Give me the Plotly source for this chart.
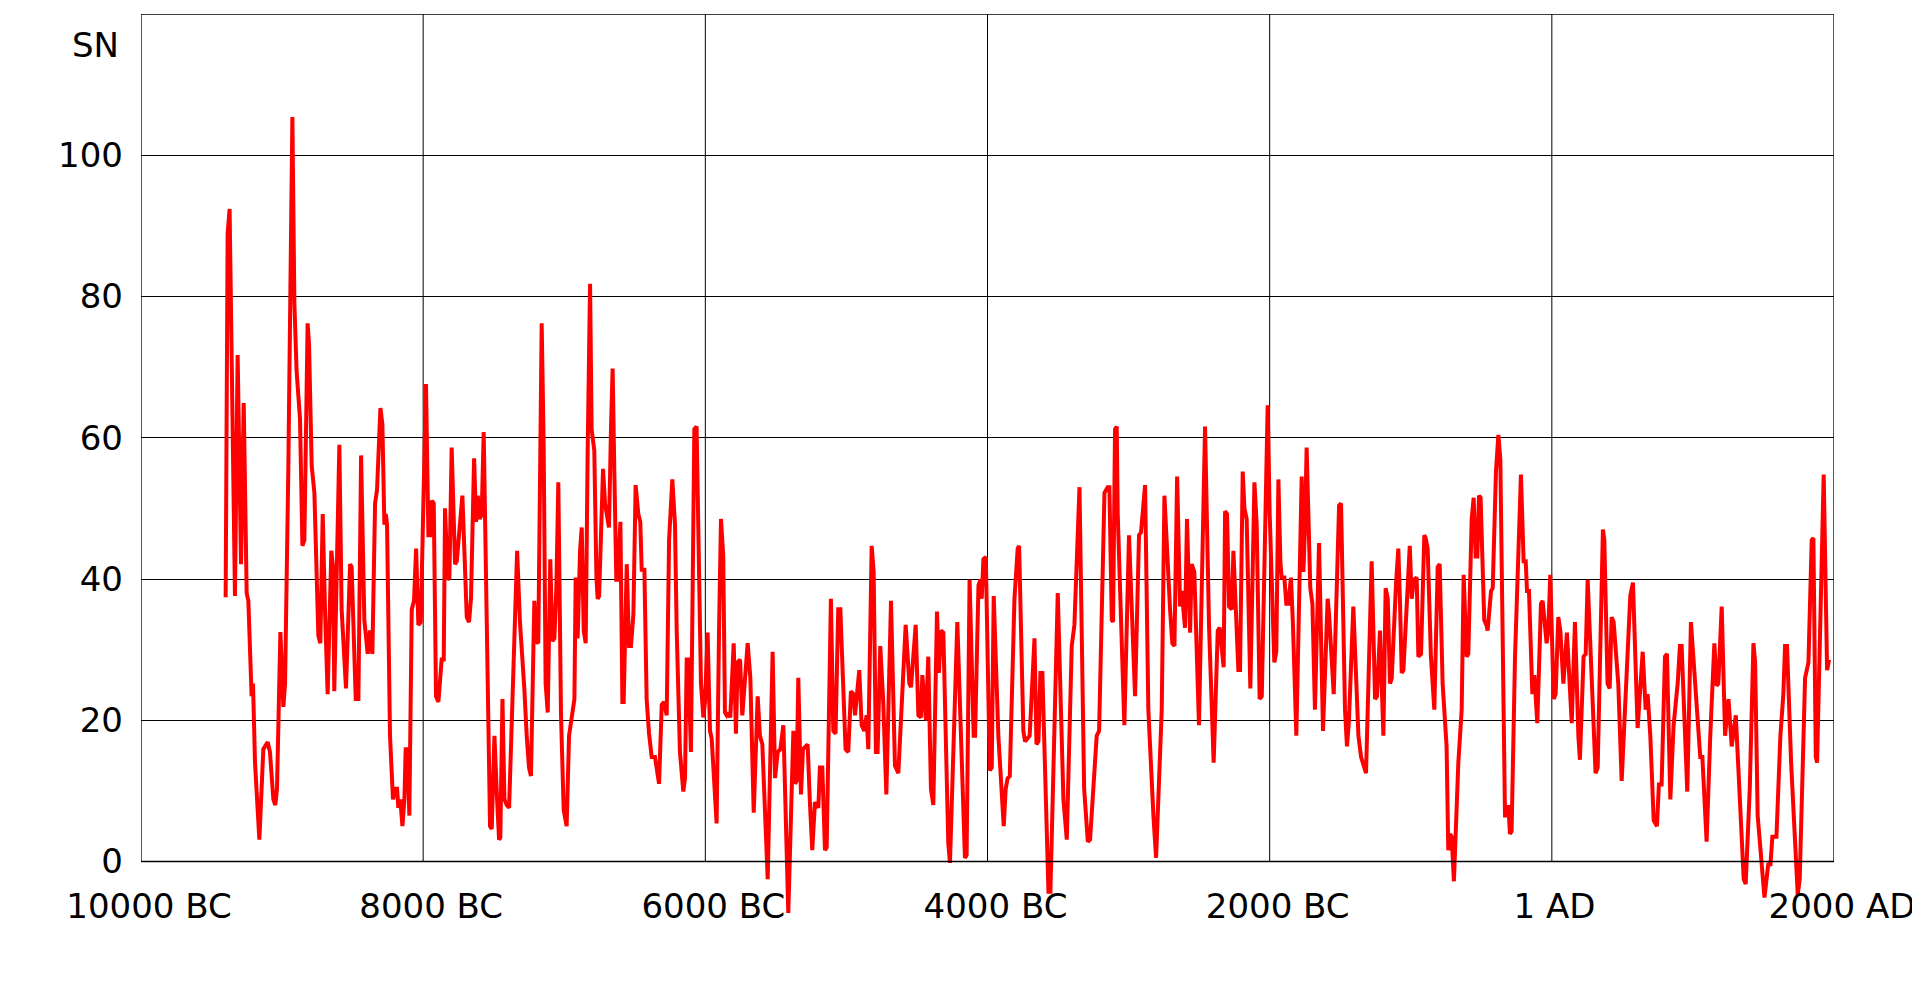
import plotly.graph_objects as go

## data (year, sunspot number)
years = [
    -9400, -9386, -9372, -9334, -9315, -9291, -9272, -9251, -9239, -9225,
    -9216, -9206, -9192, -9161, -9133, -9102, -9086, -9062, -9048, -9036,
    -9012, -8991, -8979, -8956, -8937, -8927, -8913, -8897, -8873, -8856,
    -8842, -8819, -8809, -8790, -8771, -8743, -8729, -8712, -8696, -8677,
    -8651, -8639, -8630, -8601, -8594, -8578, -8547, -8518, -8507, -8478,
    -8459, -8440, -8417, -8393,
    -8377, -8360, -8341, -8327, -8303, -8289, -8275, -8265, -8256, -8235,
    -8214, -8199, -8185, -8176, -8162, -8147, -8133, -8124, -8112, -8098,
    -8081, -8065, -8050, -8034, -8017, -7980, -7963, -7949, -7939, -7925,
    -7909, -7892, -7869, -7854, -7845, -7826, -7814, -7798, -7774, -7762,
    -7739, -7722, -7691, -7675, -7661, -7639, -7625, -7613, -7599, -7585,
    -7571, -7561, -7542, -7526, -7514, -7495, -7476, -7462, -7453, -7438,
    -7424, -7408, -7391, -7372, -7334,
    -7314, -7297, -7283, -7266, -7250, -7236, -7212, -7198, -7184, -7160,
    -7146, -7132, -7117, -7099, -7084, -7070, -7056, -7042, -7023, -7004,
    -6983, -6966, -6947, -6928, -6919, -6905, -6888, -6876, -6862, -6848,
    -6834, -6817, -6806, -6787, -6772, -6763, -6753, -6725, -6711, -6683,
    -6668, -6657, -6645, -6631, -6621, -6602, -6588, -6579, -6557, -6541,
    -6527, -6510, -6494, -6475, -6461, -6451, -6432, -6416, -6399, -6380,
    -6357, -6345, -6328, -6309, -6293, -6274, -6257, -6234,
    -6215, -6203, -6180, -6156, -6144, -6132, -6121, -6102, -6078, -6062,
    -6050, -6031, -6014, -6002, -5984, -5967, -5955, -5920, -5903, -5889,
    -5873, -5861, -5849, -5837, -5823, -5799, -5783, -5771, -5754, -5738,
    -5700, -5681, -5657, -5629, -5613, -5596, -5558, -5523, -5506, -5487,
    -5468, -5447, -5412, -5376, -5364, -5353, -5341, -5322, -5308, -5275,
    -5258, -5242, -5223,
    -5199, -5188, -5171, -5152, -5140, -5110, -5093, -5077, -5058, -5043,
    -5006, -4987, -4968, -4951, -4939, -4909, -4892, -4873, -4857, -4845,
    -4821, -4807, -4791, -4779, -4760, -4739, -4717, -4684, -4656, -4632,
    -4597, -4580, -4554, -4542, -4509, -4490, -4472, -4462, -4436, -4420,
    -4401, -4384, -4358, -4344, -4330, -4313, -4278, -4266, -4214, -4183,
    -4160, -4148, -4127,
    -4098, -4088, -4064, -4050, -4041, -4029, -4012, -3984, -3970, -3956,
    -3923, -3885, -3871, -3857, -3842, -3809, -3786, -3776, -3746, -3734,
    -3701, -3667, -3653, -3639, -3625, -3611, -3568, -3554, -3502, -3462,
    -3438, -3403, -3384, -3348, -3315, -3289, -3273, -3226, -3209, -3171,
    -3148, -3136, -3119, -3110, -3096, -3084,
    -3077, -3030, -2997, -2954, -2926, -2912, -2883, -2860, -2824, -2805,
    -2765, -2746, -2706, -2690, -2675, -2656, -2635, -2623, -2600, -2586,
    -2564, -2553, -2534, -2501, -2458, -2430, -2397, -2368, -2354, -2326,
    -2316, -2302, -2288, -2269, -2257, -2222, -2210, -2191, -2179, -2163,
    -2137, -2108, -2092, -2071, -2056, -2014,
    -2000, -1967, -1953, -1938, -1924, -1915, -1896, -1882, -1868, -1849,
    -1835, -1811, -1773, -1761, -1749, -1738, -1712, -1697, -1679, -1650,
    -1622, -1589, -1579, -1546, -1508, -1494, -1466, -1452, -1438, -1407,
    -1371, -1352, -1317, -1277, -1253, -1239, -1218, -1194, -1178, -1163,
    -1147, -1135, -1104, -1088, -1076, -1064, -1052, -1017, -1007, -993,
    -979, -958, -946, -927, -904,
    -894, -880, -857, -833, -809, -795, -774, -746, -734, -722,
    -710, -694, -663, -639, -625, -604, -592, -568, -554, -540,
    -528, -516, -505, -479, -464, -455, -431, -419, -396, -379,
    -365, -356, -332, -318, -308, -297, -285, -261, -233, -219,
    -200, -185, -176, -162, -138, -124, -103, -77, -65, -37,
    -25, -11, 13, 27, 46, 60, 82, 107, 141,
    164, 188, 199, 225, 240, 254, 282, 310, 325, 362,
    372, 395, 410, 424, 438, 471, 495, 518, 556, 575,
    608, 644, 665, 679, 698, 722, 745, 759, 778, 802,
    816, 840, 863, 892, 908, 920, 960, 986, 1019, 1052,
    1067, 1097, 1123, 1152, 1168, 1180, 1204,
    1228, 1252, 1275, 1304, 1332, 1360, 1374, 1403, 1429, 1441,
    1459, 1488, 1507, 1535, 1549, 1563, 1592, 1620, 1641, 1653,
    1667, 1696, 1724, 1743, 1757, 1786, 1795, 1819, 1842, 1854,
    1871, 1880, 1927, 1951, 1965,
]

sn = [
    37.4, 88.9, 92.4, 37.6, 71.7, 42.1, 64.9, 38.0, 36.9, 25.2,
    23.4, 25.2, 14.0, 3.1, 15.9, 16.9, 15.5, 8.8, 8.0, 10.3,
    32.5, 21.9, 25.2, 55.2, 92.7, 105.4, 79.2, 69.4, 62.7, 44.7,
    45.5, 76.2, 73.2, 56.0, 52.2, 32.0, 30.9, 49.2, 35.7, 23.7,
    44.0, 41.7, 24.1, 58.2, 59.0, 35.7, 24.5, 42.1, 41.7, 23.0,
    23.0, 57.5, 34.2, 29.4,
    32.7, 29.4, 50.7, 52.6, 64.2, 61.9, 47.7, 49.2, 47.7, 17.8,
    8.8, 10.3, 10.3, 7.6, 8.8, 5.0, 8.8, 15.9, 15.9, 6.5,
    35.7, 36.9, 44.3, 33.5, 33.9, 67.6, 46.2, 46.2, 51.1, 50.7,
    23.4, 22.6, 28.6, 28.6, 50.0, 39.9, 40.2, 58.6, 42.1, 42.5,
    48.5, 51.8, 34.6, 33.9, 37.2, 57.1, 48.1, 51.8, 48.5, 49.2,
    60.8, 49.2, 21.5, 5.0, 4.6, 17.8, 8.8, 3.1, 3.4, 23.0,
    8.8, 8.0, 7.6, 19.3, 44.0,
    33.9, 29.7, 24.5, 17.8, 13.3, 12.1, 36.9, 31.2, 30.9, 76.2,
    59.0, 25.2, 21.1, 42.8, 31.2, 31.6, 38.7, 53.7, 20.7, 7.3,
    5.0, 17.8, 20.0, 23.0, 40.2, 31.6, 44.0, 47.3, 32.7, 30.9,
    58.2, 81.8, 61.2, 58.2, 40.2, 37.2, 37.6, 55.6, 50.7, 47.3,
    61.9, 69.8, 55.2, 39.9, 39.9, 48.1, 22.6, 22.6, 42.1, 30.5,
    30.5, 35.0, 53.3, 49.2, 48.1, 41.3, 41.3, 23.0, 18.1, 14.8,
    14.8, 13.3, 11.0, 22.2, 22.6, 20.7, 45.5, 54.1,
    47.7, 32.7, 15.5, 9.9, 11.8, 28.6, 28.6, 15.5, 61.2, 61.6,
    44.7, 25.2, 20.4, 22.6, 32.4, 18.5, 17.4, 5.4, 32.7, 48.5,
    43.2, 21.1, 20.7, 21.1, 20.4, 30.9, 18.1, 28.2, 28.6, 20.7,
    30.9, 26.0, 6.9, 23.4, 17.8, 16.6, -2.5, 29.7, 11.8, 15.5,
    15.9, 19.3, -7.3, 18.5, 11.0, 11.4, 26.0, 9.5, 15.9, 16.6,
    8.0, 1.6, 8.4,
    7.6, 13.3, 13.3, 1.6, 2.0, 37.2, 18.5, 18.1, 35.7, 35.7,
    15.9, 15.5, 24.1, 23.7, 20.7, 27.1, 19.3, 18.5, 20.7, 15.9,
    44.7, 41.0, 15.5, 15.5, 30.5, 22.6, 9.5, 36.9, 13.6, 12.5,
    26.7, 33.5, 25.2, 24.7, 33.5, 20.7, 20.4, 26.4, 20.0, 29.0,
    10.3, 8.0, 35.4, 26.7, 32.7, 32.4, 2.6, -0.2, 33.9, 14.0,
    0.5, 0.9, 39.9,
    17.8, 17.8, 39.1, 39.9, 37.2, 42.8, 43.1, 12.9, 13.3, 37.6,
    17.8, 5.0, 10.3, 11.8, 12.1, 37.2, 44.3, 44.7, 18.5, 17.0,
    17.8, 31.6, 16.6, 17.0, 26.7, 26.7, -4.3, -4.3, 38.0, 8.8,
    3.1, 30.5, 33.5, 53.0, 10.3, 2.8, 3.1, 17.8, 18.5, 52.2,
    53.0, 53.0, 34.2, 33.9, 61.2, 61.6,
    49.2, 19.3, 46.2, 23.4, 46.2, 46.6, 53.3, 21.5, 6.5, 0.5,
    21.5, 51.8, 35.7, 30.9, 30.5, 54.5, 36.1, 38.3, 33.1, 48.5,
    32.4, 42.1, 41.0, 19.3, 61.6, 33.5, 14.0, 32.7, 33.1, 27.5,
    49.6, 49.2, 36.1, 35.7, 44.0, 27.1, 27.1, 55.2, 50.0, 48.5,
    24.5, 53.7, 47.7, 23.0, 23.4, 64.6,
    49.2, 28.2, 29.7, 54.1, 42.5, 40.2, 40.2, 36.5, 36.5, 40.2,
    33.5, 17.8, 54.5, 41.0, 47.7, 58.6, 38.7, 36.5, 21.5, 45.1,
    18.5, 37.2, 35.0, 23.7, 50.4, 50.7, 21.5, 16.3, 20.0, 36.1,
    17.8, 14.8, 12.5, 42.5, 23.0, 23.4, 32.7, 17.8, 38.7, 37.2,
    25.2, 25.9, 39.5, 44.3, 36.5, 26.7, 27.1, 42.5, 44.7, 37.2,
    39.9, 40.2, 29.0, 29.4, 46.2,
    45.8, 44.3, 29.0, 21.5, 41.7, 42.1, 25.2, 16.3, 1.6, 3.9,
    3.5, -2.8, 13.9, 21.5, 40.6, 29.0, 29.4, 48.5, 51.5, 43.2,
    43.2, 51.8, 51.5, 34.2, 33.5, 32.7, 38.3, 38.7, 55.2, 60.4,
    56.9, 40.2, 6.5, 6.5, 8.0, 3.9, 4.3, 29.0, 49.2, 54.8,
    42.5, 42.5, 38.3, 38.3, 23.7, 26.4, 19.6, 36.5, 36.9, 30.9,
    32.7, 40.6, 23.0, 23.7, 34.6, 32.7, 25.2, 32.4, 19.6,
    33.9, 17.8, 14.4, 29.0, 29.4, 39.9, 25.2, 12.5, 13.3, 47.0,
    45.5, 25.2, 24.5, 34.6, 33.9, 25.2, 11.4, 22.2, 37.6, 39.5,
    18.9, 29.7, 21.5, 23.7, 17.8, 5.8, 5.0, 10.9, 10.9, 29.0,
    29.4, 8.8, 19.3, 25.2, 30.5, 30.5, 9.9, 33.9, 25.2, 14.8,
    14.8, 2.8, 17.8, 30.9, 24.9, 25.2, 36.1,
    17.8, 23.0, 16.3, 20.7, 10.3, -2.5, -3.2, 10.3, 30.9, 28.2,
    6.5, -0.2, -5.1, -0.2, -0.6, 3.5, 3.5, 17.8, 23.7, 30.5,
    30.5, 14.0, 1.3, -4.7, -2.5, 17.8, 26.0, 28.2, 45.5, 45.8,
    14.8, 14.0, 54.8, 27.1, 28.6,
]

# axis ticks ("1 AD " keeps a trailing space so it sits like the original)
x_ticks = [-10000, -8000, -6000, -4000, -2000, 0, 2000]
x_labels = ["10000 BC", "8000 BC", "6000 BC", "4000 BC", "2000 BC", "1 AD ", "2000 AD"]
y_ticks = [0, 20, 40, 60, 80, 100]

Y_MIN, Y_MAX = -8, 120
FONT = dict(family="DejaVu Sans", size=34, color="black")

fig = go.Figure()
fig.add_trace(
    go.Scatter(
        x=years,
        y=sn,
        mode="lines",
        line=dict(color="#FF0000", width=4),
        showlegend=False,
    )
)

# x axis sits on y=0, the line is allowed to dip below it
fig.update_xaxes(
    range=[x_ticks[0], x_ticks[-1]],
    tickvals=x_ticks,
    ticktext=x_labels,
    anchor="free",
    position=(0 - Y_MIN) / (Y_MAX - Y_MIN),
    showgrid=False,
    zeroline=False,
    showline=False,
    ticks="",
    ticklabelstandoff=21,
    ticklabelshift=8,
    tickfont=FONT,
    automargin=False,
)
fig.update_yaxes(
    range=[Y_MIN, Y_MAX],
    tickvals=y_ticks,
    showgrid=True,
    gridcolor="black",
    gridwidth=1,
    zeroline=False,
    showline=False,
    ticks="",
    ticklabelstandoff=17,
    tickfont=FONT,
    automargin=False,
)

# frame and vertical grid (stop at zero like the original)
fig.add_shape(
    type="rect", xref="x", yref="y",
    x0=x_ticks[0], x1=x_ticks[-1], y0=0, y1=Y_MAX,
    line=dict(color="black", width=1.3),
)
for v in x_ticks[1:-1]:
    fig.add_shape(
        type="line", xref="x", yref="y",
        x0=v, x1=v, y0=0, y1=Y_MAX,
        line=dict(color="black", width=1),
        layer="below",
    )

fig.add_annotation(
    text="SN",
    xref="paper", yref="y",
    x=0, y=115.6,
    xanchor="right", yanchor="middle",
    xshift=-20,
    showarrow=False,
    font=FONT,
)

# the page body adds 8px around the figure
fig.update_layout(
    width=1912,
    height=980,
    margin=dict(l=133, r=86, t=6, b=70),
    plot_bgcolor="white",
    paper_bgcolor="white",
    font=FONT,
)

fig.write_html("out.html")
